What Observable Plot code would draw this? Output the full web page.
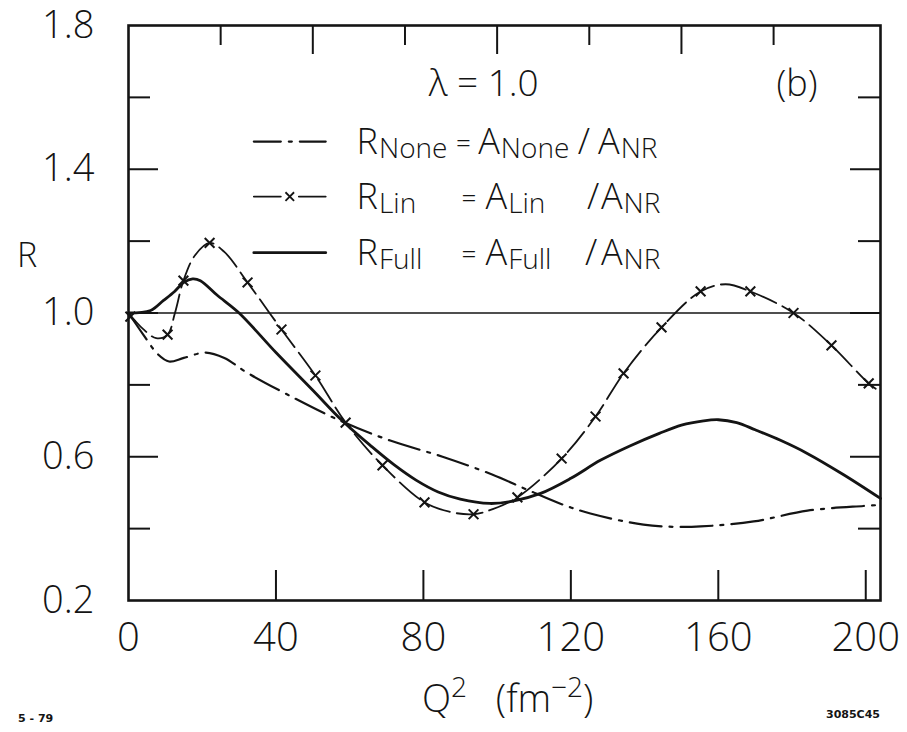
<!DOCTYPE html>
<html><head><meta charset="utf-8">
<script src="https://cdn.jsdelivr.net/npm/d3@7"></script>
<script src="https://cdn.jsdelivr.net/npm/@observablehq/plot@0.6"></script>
<style>body{margin:0;background:#fff}</style>
</head><body><div id="chart"></div>
<script>
// ---- data ----
const qNone = [0, 4, 8, 11, 15, 21, 26, 32, 43.7, 57.5, 71, 85.2, 98.8, 108, 117, 125.3, 139.7, 148, 155.2, 169.6, 184.2, 199.4, 204];
const rNone = [1.0, 0.94, 0.885, 0.865, 0.875, 0.89, 0.875, 0.835, 0.77, 0.70, 0.645, 0.60, 0.55, 0.509, 0.47, 0.442, 0.411, 0.405, 0.406, 0.42, 0.45, 0.463, 0.466];

const qLin = [0, 4, 7.5, 10.6, 12.6, 14.9, 18, 22, 26, 32.3, 41.5, 50.7, 58.9, 68.9, 80.3, 87, 93.6, 99, 105.5, 117.5, 126.7, 134.3, 144.6, 155.2, 162, 168.7, 180.4, 190.7, 200.8, 204];
const rLin = [1.0, 0.955, 0.93, 0.94, 1.0, 1.09, 1.16, 1.195, 1.17, 1.085, 0.954, 0.826, 0.695, 0.576, 0.473, 0.447, 0.44, 0.455, 0.487, 0.595, 0.712, 0.832, 0.96, 1.06, 1.08, 1.06, 1.0, 0.91, 0.804, 0.78];

const qLinMarks = [0.5, 10.6, 14.9, 22, 32.3, 41.5, 50.7, 58.9, 68.9, 80.3, 93.6, 105.5, 117.5, 126.7, 134.3, 144.6, 155.2, 168.7, 180.4, 190.7, 200.8];
const rLinMarks = [0.99, 0.94, 1.09, 1.195, 1.085, 0.954, 0.826, 0.695, 0.576, 0.473, 0.44, 0.487, 0.595, 0.712, 0.832, 0.96, 1.06, 1.06, 1.0, 0.91, 0.804];

const qFull = [0, 6, 9.5, 12.5, 15, 17.4, 19.5, 24, 30, 40, 50, 58, 66, 72, 78, 84, 90, 98, 104, 111.8, 120, 128, 136, 144, 150, 156, 160, 165, 170, 177, 184, 194, 204];
const rFull = [1.0, 1.007, 1.035, 1.06, 1.085, 1.095, 1.09, 1.05, 1.0, 0.89, 0.785, 0.70, 0.628, 0.578, 0.535, 0.502, 0.482, 0.47, 0.476, 0.498, 0.54, 0.59, 0.63, 0.665, 0.688, 0.70, 0.703, 0.695, 0.675, 0.645, 0.61, 0.55, 0.484];

const xTickLabels = [0, 40, 80, 120, 160, 200];
const yTickLabels = [0.2, 0.6, 1.0, 1.4, 1.8];
const bottomTicks = [40, 80, 120, 160, 200];
const topTicks = [25, 50, 75, 100, 125, 150, 175];
const sideTicks = [0.4, 0.6, 0.8, 1.0, 1.2, 1.4, 1.6];
const legendLabels = [["R", "None", "A", "None", "/", "A", "NR"], ["R", "Lin", "A", "Lin", "/", "A", "NR"], ["R", "Full", "A", "Full", "/", "A", "NR"]];

// ---- layout ----
const W = 907, H = 732;
const mL = 128, mR = 27, mT = 25, mB = 132;
const xDom = [0, 204], yDom = [0.2, 1.8];
const pxQ = (W - mL - mR) / (xDom[1] - xDom[0]);
const pxR = (H - mT - mB) / (yDom[1] - yDom[0]);
const FONT = "'Open Sans', 'DejaVu Sans', sans-serif";
const INK = "#141414";

const toRows = (qs, rs) => qs.map((q, i) => ({q, r: rs[i]}));
const none = toRows(qNone, rNone);
const lin = toRows(qLin, rLin);
const linMarks = toRows(qLinMarks, rLinMarks);
const full = toRows(qFull, rFull);

const majorY = v => yTickLabels.some(t => Math.abs(t - v) < 1e-6);
const sideLen = v => (majorY(v) ? 30 : 22) / pxQ;
const topLen = v => (v % 50 === 0 ? 29 : 20) / pxR;

// legend rows (data units)
const legendR = [1.477, 1.324, 1.168];
const sampleQ = [34, 53.5];

const plot = Plot.plot({
  width: W, height: H,
  marginLeft: mL, marginRight: mR, marginTop: mT, marginBottom: mB,
  x: {domain: xDom}, y: {domain: yDom},
  style: {fontFamily: FONT, background: "#fff", color: INK},
  marks: [
    Plot.axisY({ticks: yTickLabels, tickSize: 0, tickPadding: 34, fontSize: 38, fontWeight: 300, tickFormat: d3.format(".1f"), label: null}),
    Plot.axisX({ticks: xTickLabels, tickSize: 0, tickPadding: 22, fontSize: 40, fontWeight: 300, tickFormat: d => String(d), label: null}),
    Plot.ruleY([1.0], {stroke: INK, strokeWidth: 1.3}),
    Plot.ruleY(sideTicks, {y: d => d, x1: () => xDom[0], x2: d => xDom[0] + sideLen(d), stroke: INK, strokeWidth: 2}),
    Plot.ruleY(sideTicks, {y: d => d, x1: d => xDom[1] - sideLen(d), x2: () => xDom[1], stroke: INK, strokeWidth: 2}),
    Plot.ruleX(topTicks, {x: d => d, y1: () => yDom[1], y2: d => yDom[1] - topLen(d), stroke: INK, strokeWidth: 2}),
    Plot.ruleX(bottomTicks, {x: d => d, y1: () => yDom[0], y2: () => yDom[0] + 30 / pxR, stroke: INK, strokeWidth: 2}),
    Plot.line(none, {x: "q", y: "r", curve: "catmull-rom", stroke: INK, strokeWidth: 2.2, strokeDasharray: "32,8,3,8"}),
    Plot.line(lin, {x: "q", y: "r", curve: "catmull-rom", stroke: INK, strokeWidth: 1.8, strokeDasharray: "26,7"}),
    Plot.dot(linMarks, {x: "q", y: "r", symbol: "times", r: 4.5, stroke: INK, strokeWidth: 2}),
    Plot.line(full, {x: "q", y: "r", curve: "catmull-rom", stroke: INK, strokeWidth: 2.8}),
    // legend samples
    Plot.line([{q: sampleQ[0], r: legendR[0]}, {q: sampleQ[1], r: legendR[0]}], {x: "q", y: "r", stroke: INK, strokeWidth: 2.2, strokeDasharray: "27,8,3,8,40"}),
    Plot.line([{q: sampleQ[0], r: legendR[1]}, {q: sampleQ[1], r: legendR[1]}], {x: "q", y: "r", stroke: INK, strokeWidth: 1.8, strokeDasharray: "27,18,40"}),
    Plot.dot([{q: (sampleQ[0] + sampleQ[1]) / 2, r: legendR[1]}], {x: "q", y: "r", symbol: "times", r: 4, stroke: INK, strokeWidth: 1.8}),
    Plot.line([{q: sampleQ[0], r: legendR[2]}, {q: sampleQ[1], r: legendR[2]}], {x: "q", y: "r", stroke: INK, strokeWidth: 2.8}),
    Plot.frame({stroke: INK, strokeWidth: 2.6})
  ]
});

const sx = plot.scale("x"), sy = plot.scale("y");
const svg = d3.select(plot);
const g = svg.append("g").attr("font-family", FONT).attr("fill", INK).attr("font-weight", 300).attr("text-anchor", "start");

// legend text: anchors in data units for "R", "=", "A", "/", "A"
const legendQ = [
  [62, 89, 95, 122, 127.5],
  [62, 90.5, 97, 124.5, 128.3],
  [62, 90.5, 97, 124, 128.3]
];
legendLabels.forEach((row, i) => {
  const yb = sy.apply(legendR[i]) + 13;
  const [qR, qEq, qA, qSl, qA2] = legendQ[i];
  const t = g.append("text").attr("y", yb).attr("font-size", 36);
  t.append("tspan").attr("x", sx.apply(qR)).text(row[0]);
  t.append("tspan").attr("dx", 1).attr("dy", 4).attr("font-size", 28).text(row[1]);
  t.append("tspan").attr("x", sx.apply(qEq)).attr("dy", -6).attr("font-size", 26).text("=");
  t.append("tspan").attr("x", sx.apply(qA)).attr("dy", 2).text(row[2]);
  t.append("tspan").attr("dx", 1).attr("dy", 4).attr("font-size", 28).text(row[3]);
  t.append("tspan").attr("x", sx.apply(qSl)).attr("dy", -4).text(row[4]);
  t.append("tspan").attr("x", sx.apply(qA2)).text(row[5]);
  t.append("tspan").attr("dx", 1).attr("dy", 4).attr("font-size", 28).text(row[6]);
});

g.append("text").attr("x", sx.apply(96.5)).attr("y", sy.apply(1.639) + 13).attr("text-anchor", "middle").attr("font-size", 37).text("λ = 1.0");
g.append("text").attr("x", sx.apply(181.5)).attr("y", sy.apply(1.639) + 13).attr("text-anchor", "middle").attr("font-size", 36).text("(b)");

// y label
g.append("text").attr("x", 27).attr("y", sy.apply(1.16) + 12).attr("text-anchor", "middle").attr("font-size", 34).text("R");

// x label
const xl = g.append("text").attr("x", sx.apply(103)).attr("y", H - 20).attr("text-anchor", "middle").attr("font-size", 38);
xl.append("tspan").text("Q");
xl.append("tspan").attr("dy", -15).attr("font-size", 28).text("2");
xl.append("tspan").attr("dy", 15).text("\u2002 (fm");
xl.append("tspan").attr("dy", -15).attr("font-size", 28).text("\u22122");
xl.append("tspan").attr("dy", 15).text(")");

// corner notes
g.append("text").attr("x", 18).attr("y", H - 10).attr("font-size", 11).attr("font-weight", 700).attr("font-family", "'DejaVu Sans', sans-serif").text("5 - 79");
g.append("text").attr("x", 880).attr("y", H - 14).attr("text-anchor", "end").attr("font-size", 11).attr("font-weight", 700).attr("font-family", "'DejaVu Sans', sans-serif").text("3085C45");

document.getElementById("chart").append(plot);
</script>
</body></html>
